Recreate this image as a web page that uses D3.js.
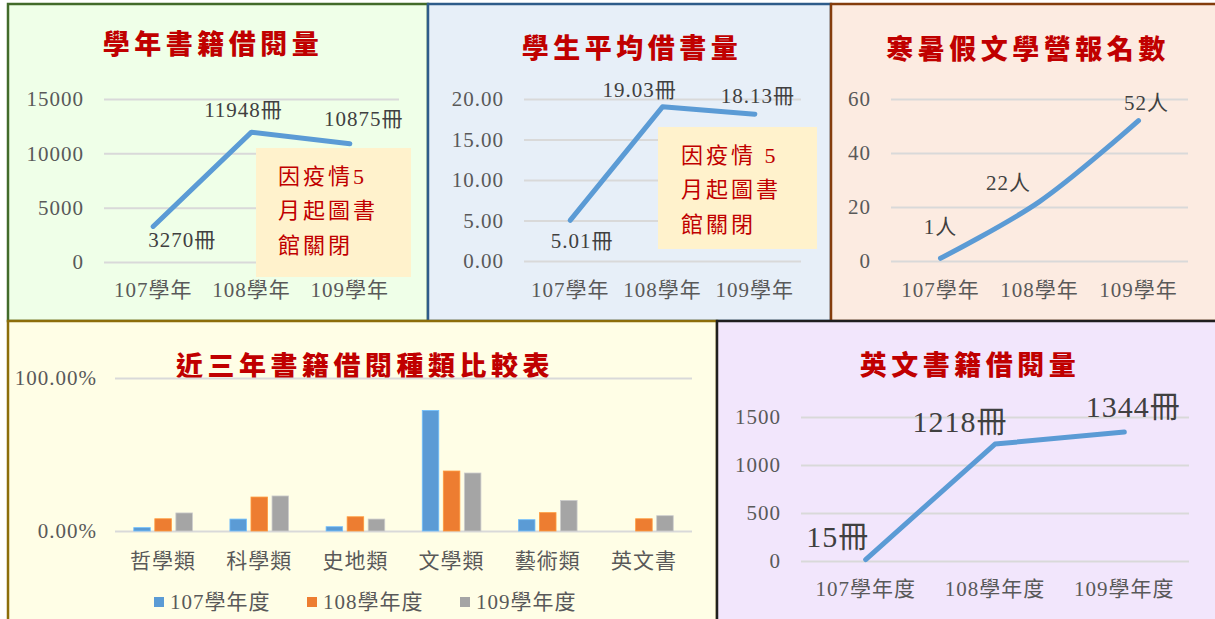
<!DOCTYPE html>
<html>
<head>
<meta charset="utf-8">
<script src="https://cdn.jsdelivr.net/npm/d3@7"></script>
<style>
  body { margin: 0; background: #fff; }
  svg text { font-family: "Liberation Serif", "Noto Sans CJK TC", serif; }
  .title { font-family: "Noto Sans CJK TC", sans-serif; font-weight: 900; font-size: 27px; fill: #C00000; letter-spacing: 4.5px; }
  .tick text { font-size: 21px; fill: #595959; letter-spacing: 1px; }
  .cat { font-size: 21px; fill: #595959; letter-spacing: 1px; }
  .lbl { font-size: 21px; fill: #404040; letter-spacing: 1px; }
  .note { font-size: 22px; fill: #C00000; letter-spacing: 3px; }
</style>
</head>
<body>
<svg width="1215" height="619"></svg>
<script>
// ---- data ----
var years = ['107學年', '108學年', '109學年'];
var yearsDu = ['107學年度', '108學年度', '109學年度'];

var borrowTotal = [3270, 11948, 10875];
var borrowTicks = [0, 5000, 10000, 15000];

var perStudent = [5.01, 19.03, 18.13];
var perStudentTicks = [0, 5, 10, 15, 20];

var campCount = [1, 22, 52];
var campTicks = [0, 20, 40, 60];

var englishTotal = [15, 1218, 1344];
var englishTicks = [0, 500, 1000, 1500];

var bookTypes = ['哲學類', '科學類', '史地類', '文學類', '藝術類', '英文書'];
var share107 = [0.022, 0.078, 0.028, 0.788, 0.074, 0];
var share108 = [0.080, 0.222, 0.093, 0.392, 0.120, 0.080];
var share109 = [0.118, 0.229, 0.078, 0.379, 0.200, 0.100];
var shareTicks = [0, 1];

var noteLines1 = ['因疫情5', '月起圖書', '館關閉'];
var noteLines2 = ['因疫情 5', '月起圖書', '館關閉'];

var svg = d3.select('svg');

// panels (background boxes)
var panels = [
    {x: 8, y: 4, w: 420, h: 317, fill: '#EFFFE8', stroke: '#426B2A'},
    {x: 428, y: 4, w: 403, h: 317, fill: '#E7EFF8', stroke: '#2E5C8A'},
    {x: 831, y: 4, w: 390, h: 317, fill: '#FCEBE1', stroke: '#843C0C'},
    {x: 8, y: 321, w: 709, h: 305, fill: '#FFFEE6', stroke: '#8C6D0A'},
    {x: 717, y: 321, w: 505, h: 305, fill: '#F2E6FC', stroke: '#1F1F1F'}
];
svg.selectAll('.panel')
    .data(panels)
    .enter()
    .append('rect')
    .attr('class', 'panel')
    .attr('x', function(d) { return d.x; })
    .attr('y', function(d) { return d.y; })
    .attr('width', function(d) { return d.w; })
    .attr('height', function(d) { return d.h; })
    .attr('fill', function(d) { return d.fill; })
    .attr('stroke', function(d) { return d.stroke; })
    .attr('stroke-width', 2.5);

function title(text, cx, cy) {
    svg.append('text')
        .attr('class', 'title')
        .attr('x', cx)
        .attr('y', cy)
        .attr('text-anchor', 'middle')
        .attr('dominant-baseline', 'central')
        .text(text);
}

function yAxisGrid(g, yScale, ticks, left, right, fmt) {
    var axis = d3.axisLeft(yScale)
        .tickValues(ticks)
        .tickSizeInner(-(right - left))
        .tickSizeOuter(0)
        .tickPadding(20)
        .tickFormat(fmt);
    var a = g.append('g')
        .attr('transform', 'translate(' + left + ',0)')
        .call(axis);
    a.select('.domain').remove();
    a.selectAll('.tick line').attr('stroke', '#D9D9D9').attr('stroke-width', 2);
    return a;
}

function catLabels(g, xScale, cats, y) {
    g.selectAll('.cat')
        .data(cats)
        .enter()
        .append('text')
        .attr('class', 'cat')
        .attr('x', function(d) { return xScale(d); })
        .attr('y', y)
        .attr('text-anchor', 'middle')
        .attr('dominant-baseline', 'central')
        .text(function(d) { return d; });
}

// line chart panel
function linePanel(cfg) {
    var g = svg.append('g');
    var x = d3.scalePoint().domain(cfg.cats).range([cfg.left, cfg.right]).padding(0.5);
    var y = d3.scaleLinear().domain(cfg.domain).range([cfg.bottom, cfg.top]);

    yAxisGrid(g, y, cfg.ticks, cfg.left, cfg.right, cfg.fmt);
    catLabels(g, x, cfg.cats, cfg.catY);

    var line = d3.line()
        .x(function(d, i) { return x(cfg.cats[i]); })
        .y(function(d) { return y(d); })
        .curve(cfg.curve || d3.curveLinear);

    g.append('path')
        .datum(cfg.values)
        .attr('d', line)
        .attr('fill', 'none')
        .attr('stroke', '#5B9BD5')
        .attr('stroke-width', 5)
        .attr('stroke-linecap', 'round')
        .attr('stroke-linejoin', 'round');

    g.selectAll('.lbl')
        .data(cfg.values)
        .enter()
        .append('text')
        .attr('class', 'lbl')
        .attr('x', function(d, i) { return x(cfg.cats[i]) + cfg.off[i][0]; })
        .attr('y', function(d, i) { return y(d) + cfg.off[i][1]; })
        .attr('text-anchor', 'middle')
        .attr('dominant-baseline', 'central')
        .style('font-size', (cfg.lblSize || 21) + 'px')
        .text(function(d) { return cfg.lblFmt(d); });
    return g;
}

function note(lines, bx, by, bw, bh, tx, ty, dy) {
    svg.append('rect')
        .attr('x', bx).attr('y', by)
        .attr('width', bw).attr('height', bh)
        .attr('fill', '#FFF2CC');
    svg.selectAll(null)
        .data(lines)
        .enter()
        .append('text')
        .attr('class', 'note')
        .attr('x', tx)
        .attr('y', function(d, i) { return ty + i * dy; })
        .attr('dominant-baseline', 'central')
        .text(function(d) { return d; });
}

// 1. 學年書籍借閱量
title('學年書籍借閱量', 213, 42);
linePanel({
    cats: years, values: borrowTotal, domain: [0, 15000], ticks: borrowTicks,
    left: 104, right: 399, top: 99, bottom: 262, catY: 290,
    fmt: d3.format('d'),
    lblFmt: function(d) { return d + '冊'; },
    off: [[29, 14], [-8, -22], [14, -25]]
});
note(noteLines1, 256, 148, 155, 129, 278, 176, 34.5);

// 2. 學生平均借書量
title('學生平均借書量', 632, 46);
linePanel({
    cats: years, values: perStudent, domain: [0, 20], ticks: perStudentTicks,
    left: 524, right: 801, top: 99, bottom: 261, catY: 290,
    fmt: d3.format('.2f'),
    lblFmt: function(d) { return d3.format('.2f')(d) + '冊'; },
    off: [[12, 21], [-23, -17], [3, -18]]
});
note(noteLines2, 658, 127, 159, 122, 681, 155, 34.5);

// 3. 寒暑假文學營報名數
title('寒暑假文學營報名數', 1028, 47);
linePanel({
    cats: years, values: campCount, domain: [0, 60], ticks: campTicks,
    left: 891, right: 1188, top: 99, bottom: 261, catY: 290,
    fmt: d3.format('d'),
    lblFmt: function(d) { return d + '人'; },
    off: [[0, -31], [-31, -19], [8, -18]],
    curve: d3.curveCatmullRom.alpha(0.5)
});

// 5. 英文書籍借閱量
title('英文書籍借閱量', 970, 363);
linePanel({
    cats: yearsDu, values: englishTotal, domain: [0, 1500], ticks: englishTicks,
    left: 801, right: 1189, top: 417, bottom: 561, catY: 589,
    fmt: d3.format('d'),
    lblFmt: function(d) { return d + '冊'; },
    off: [[-28, -23], [-35, -23], [9, -25]],
    lblSize: 30
});

// 4. 近三年書籍借閱種類比較表
title('近三年書籍借閱種類比較表', 365, 364);
var barG = svg.append('g');
var series = [
    {name: yearsDu[0], values: share107, color: '#5B9BD5'},
    {name: yearsDu[1], values: share108, color: '#ED7D31'},
    {name: yearsDu[2], values: share109, color: '#A5A5A5'}
];
var bx0 = d3.scaleBand().domain(bookTypes).range([115, 692]).paddingInner(0.39).paddingOuter(0.195);
var bx1 = d3.scaleBand().domain(yearsDu).range([0, bx0.bandwidth()]).paddingInner(0.214);
var by = d3.scaleLinear().domain([0, 1]).range([531, 378]);

yAxisGrid(barG, by, shareTicks, 115, 692, d3.format('.2%'))
    .selectAll('.tick text').attr('dx', 2);

barG.selectAll('.series')
    .data(series)
    .enter()
    .append('g')
    .attr('class', 'series')
    .each(function(s) {
        d3.select(this).selectAll('rect')
            .data(s.values)
            .enter()
            .append('rect')
            .attr('x', function(d, i) { return bx0(bookTypes[i]) + bx1(s.name); })
            .attr('y', function(d) { return by(d); })
            .attr('width', bx1.bandwidth())
            .attr('height', function(d) { return by(0) - by(d); })
            .attr('fill', s.color)
            .attr('stroke', d3.color(s.color).brighter(0.6))
            .attr('stroke-width', 0.8)
            .attr('display', function(d) { return d > 0 ? null : 'none'; });
    });

var catX = function(d) { return bx0(d) + bx0.bandwidth() / 2; };
barG.selectAll('.cat')
    .data(bookTypes)
    .enter()
    .append('text')
    .attr('class', 'cat')
    .attr('x', catX)
    .attr('y', 561)
    .attr('text-anchor', 'middle')
    .attr('dominant-baseline', 'central')
    .text(function(d) { return d; });

// legend
var legend = barG.selectAll('.legend')
    .data(series)
    .enter()
    .append('g')
    .attr('class', 'legend')
    .attr('transform', function(d, i) { return 'translate(' + (154 + i * 153) + ',602)'; });
legend.append('rect')
    .attr('x', 0).attr('y', -5)
    .attr('width', 10).attr('height', 10)
    .attr('fill', function(d) { return d.color; });
legend.append('text')
    .attr('class', 'cat')
    .attr('x', 16)
    .attr('y', 0)
    .attr('dominant-baseline', 'central')
    .text(function(d) { return d.name; });
</script>
</body>
</html>
